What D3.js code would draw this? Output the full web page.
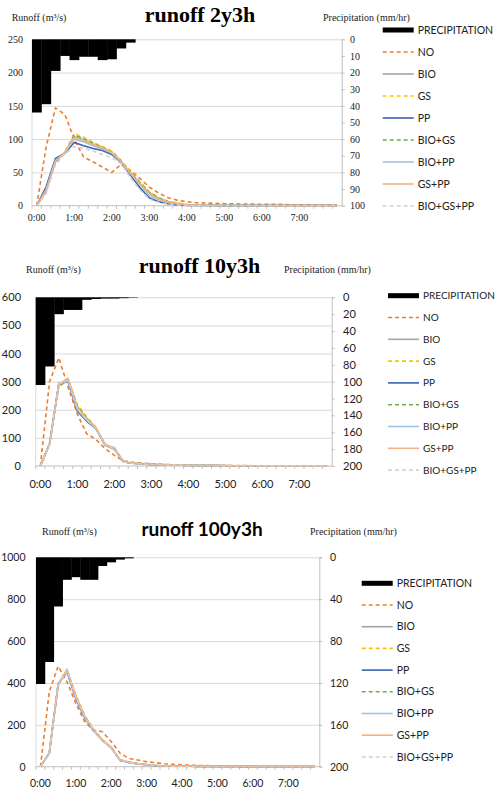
<!DOCTYPE html>
<html>
<head>
<meta charset="utf-8">
<script src="https://cdn.jsdelivr.net/npm/d3@7"></script>
<style>
  html, body { margin: 0; padding: 0; background: #fff; }
  svg { display: block; }
</style>
</head>
<body>
<div id="chart"></div>
<script>
// 15-minute time steps
const TIMES_33 = ["0:00","0:15","0:30","0:45","1:00","1:15","1:30","1:45","2:00","2:15","2:30","2:45","3:00","3:15","3:30","3:45","4:00","4:15","4:30","4:45","5:00","5:15","5:30","5:45","6:00","6:15","6:30","6:45","7:00","7:15","7:30","7:45","8:00"];
const TIMES_32 = TIMES_33.slice(0, 32);
const HOUR_LABELS = ["0:00","1:00","2:00","3:00","4:00","5:00","6:00","7:00"];
const SERIES_NAMES = ["NO","BIO","GS","PP","BIO+GS","BIO+PP","GS+PP","BIO+GS+PP"];

// runoff 2y3h
const precip2y = [44, 39, 19, 10, 12.5, 10.5, 10.5, 12.5, 12, 5.5, 2];
const no2y = [0, 88, 147, 137, 100, 73, 66, 58, 50, 62, 53, 41, 28, 19, 12, 8, 6, 4.5, 4, 3.5, 3, 3, 2.5, 2.5, 2, 2, 2, 1.5, 1.5, 1.5, 1, 1, 1];
const bio2y = [0, 22, 66, 80, 104, 99, 92, 87, 80, 66, 49, 33, 19, 11, 6, 3, 1.5, 1, 0.5, 0.5, 0.3, 0.3, 0.2, 0.2, 0.2, 0.1, 0.1, 0.1, 0.1, 0.1, 0.1, 0.1, 0.1];
const gs2y = [0, 20, 64, 80, 108, 103, 95, 89, 82, 68, 51, 36, 21, 12, 7, 4, 2, 1, 0.6, 0.5, 0.4, 0.3, 0.3, 0.2, 0.2, 0.2, 0.1, 0.1, 0.1, 0.1, 0.1, 0.1, 0.1];
const pp2y = [0, 28, 71, 79, 95, 90, 86, 83, 77, 65, 46, 27, 12, 6, 3, 1, 0.5, 0.3, 0.2, 0.2, 0.1, 0.1, 0.1, 0.1, 0.1, 0.1, 0.1, 0.1, 0.1, 0.1, 0.1, 0.1, 0.1];
const biogs2y = [0, 21, 65, 80, 106, 101, 94, 88, 81, 67, 50, 35, 20, 12, 6, 3.5, 1.5, 1, 0.5, 0.5, 0.3, 0.3, 0.2, 0.2, 0.2, 0.1, 0.1, 0.1, 0.1, 0.1, 0.1, 0.1, 0.1];
const biopp2y = [0, 24, 68, 79, 100, 96, 90, 85, 79, 66, 48, 31, 16, 9, 5, 2.5, 1, 0.5, 0.4, 0.3, 0.2, 0.2, 0.2, 0.1, 0.1, 0.1, 0.1, 0.1, 0.1, 0.1, 0.1, 0.1, 0.1];
const gspp2y = [0, 22, 67, 80, 103, 98, 92, 87, 80, 66, 49, 33, 18, 10, 5.5, 3, 1.5, 1, 0.5, 0.4, 0.3, 0.3, 0.2, 0.2, 0.2, 0.1, 0.1, 0.1, 0.1, 0.1, 0.1, 0.1, 0.1];
const biogspp2y = [0, 18, 62, 78, 89, 86, 82, 77, 72, 63, 42, 24, 10, 5, 2, 1, 0.5, 0.3, 0.2, 0.2, 0.1, 0.1, 0.1, 0.1, 0.1, 0.1, 0.1, 0.1, 0.1, 0.1, 0.1, 0.1, 0.1];

// runoff 10y3h
const precip10y = [104, 82, 20, 15, 15, 3, 2, 1.5, 1.5, 1, 0.5];
const no10y = [0, 300, 385, 280, 185, 115, 95, 62, 38, 18, 13, 10, 8, 6, 5, 4, 3, 3, 2, 2, 2, 1.5, 1.5, 1, 1, 1, 1, 1, 1, 0.5, 0.5, 0.5];
const bio10y = [0, 78, 290, 305, 211, 170, 136, 76, 62, 15, 10, 7, 6, 5, 4, 3, 2.5, 2, 2, 1.5, 1.5, 1, 1, 1, 1, 0.5, 0.5, 0.5, 0.5, 0.5, 0.5, 0.5];
const gs10y = [0, 76, 288, 310, 218, 175, 138, 78, 60, 16, 11, 8, 6, 5, 4, 3, 2.5, 2, 2, 1.5, 1.5, 1, 1, 1, 1, 0.5, 0.5, 0.5, 0.5, 0.5, 0.5, 0.5];
const pp10y = [0, 80, 293, 300, 195, 160, 133, 74, 60, 14, 10, 7, 5, 4, 3.5, 3, 2, 2, 1.5, 1.5, 1, 1, 1, 1, 0.5, 0.5, 0.5, 0.5, 0.5, 0.5, 0.5, 0.5];
const biogs10y = [0, 77, 280, 308, 214, 172, 137, 77, 61, 15, 10, 7, 6, 5, 4, 3, 2.5, 2, 2, 1.5, 1.5, 1, 1, 1, 1, 0.5, 0.5, 0.5, 0.5, 0.5, 0.5, 0.5];
const biopp10y = [0, 79, 292, 302, 200, 163, 134, 75, 66, 14, 10, 7, 5, 4, 3.5, 3, 2, 2, 1.5, 1.5, 1, 1, 1, 1, 0.5, 0.5, 0.5, 0.5, 0.5, 0.5, 0.5, 0.5];
const gspp10y = [0, 78, 291, 312, 208, 168, 135, 76, 58, 15, 10, 7, 6, 5, 4, 3, 2.5, 2, 2, 1.5, 1.5, 1, 1, 1, 1, 0.5, 0.5, 0.5, 0.5, 0.5, 0.5, 0.5];
const biogspp10y = [0, 79, 292, 303, 203, 165, 135, 75, 62, 14, 10, 7, 5, 4, 3.5, 3, 2, 2, 1.5, 1.5, 1, 1, 1, 1, 0.5, 0.5, 0.5, 0.5, 0.5, 0.5, 0.5, 0.5];

// runoff 100y3h
const precip100y = [121, 100, 47, 21.5, 19, 21.5, 21.5, 8.3, 4.8, 2.2, 1];
const no100y = [0, 358, 480, 406, 302, 215, 175, 167, 120, 64, 40, 32, 24, 19, 14, 11, 9, 7, 6, 5, 4, 4, 3, 3, 3, 2, 2, 2, 2, 1.5, 1.5, 1.5];
const bio100y = [0, 64, 390, 460, 334, 239, 175, 127, 91, 32, 21, 14, 10, 6, 4, 3, 2.5, 2, 1.5, 1.5, 1, 1, 1, 1, 0.5, 0.5, 0.5, 0.5, 0.5, 0.5, 0.5, 0.5];
const gs100y = [0, 62, 385, 465, 342, 245, 178, 128, 90, 33, 22, 15, 10, 6, 4, 3, 2.5, 2, 1.5, 1.5, 1, 1, 1, 1, 0.5, 0.5, 0.5, 0.5, 0.5, 0.5, 0.5, 0.5];
const pp100y = [0, 66, 395, 452, 325, 232, 172, 126, 92, 30, 20, 13, 9, 5, 3.5, 3, 2, 2, 1.5, 1, 1, 1, 1, 0.5, 0.5, 0.5, 0.5, 0.5, 0.5, 0.5, 0.5, 0.5];
const biogs100y = [0, 63, 388, 462, 338, 242, 176, 127, 90, 32, 21, 14, 10, 6, 4, 3, 2.5, 2, 1.5, 1.5, 1, 1, 1, 1, 0.5, 0.5, 0.5, 0.5, 0.5, 0.5, 0.5, 0.5];
const biopp100y = [0, 65, 392, 456, 330, 236, 174, 126, 91, 31, 20, 14, 9, 6, 4, 3, 2, 2, 1.5, 1.5, 1, 1, 1, 1, 0.5, 0.5, 0.5, 0.5, 0.5, 0.5, 0.5, 0.5];
const gspp100y = [0, 63, 387, 466, 340, 243, 177, 128, 90, 33, 22, 15, 10, 6, 4, 3, 2.5, 2, 1.5, 1.5, 1, 1, 1, 1, 0.5, 0.5, 0.5, 0.5, 0.5, 0.5, 0.5, 0.5];
const biogspp100y = [0, 64, 390, 458, 332, 237, 174, 126, 91, 31, 21, 14, 9, 6, 4, 3, 2.5, 2, 1.5, 1.5, 1, 1, 1, 1, 0.5, 0.5, 0.5, 0.5, 0.5, 0.5, 0.5, 0.5];

// axis ticks
const runoffTicks2y = [0, 50, 100, 150, 200, 250];
const precipTicks2y = [0, 10, 20, 30, 40, 50, 60, 70, 80, 90, 100];
const runoffTicks10y = [0, 100, 200, 300, 400, 500, 600];
const precipTicks10y = [0, 20, 40, 60, 80, 100, 120, 140, 160, 180, 200];
const runoffTicks100y = [0, 200, 400, 600, 800, 1000];
const precipTicks100y = [0, 40, 80, 120, 160, 200];

const WIDTH = 498;
const HEIGHT = 789;
const SERIF = '"Liberation Serif", "DejaVu Serif", serif';
const SANS = 'Lato, "Liberation Sans", sans-serif';
const plain = (v) => String(v);

const STYLES = {
  "NO": { color: "#ed7d31", dash: "4,3", width: 1.6 },
  "BIO": { color: "#a5a5a5", dash: null, width: 1.6 },
  "GS": { color: "#ffc000", dash: "4,3", width: 1.6 },
  "PP": { color: "#3a62b0", dash: null, width: 1.6 },
  "BIO+GS": { color: "#70ad47", dash: "4,3", width: 1.4 },
  "BIO+PP": { color: "#9dc3e6", dash: null, width: 1.6 },
  "GS+PP": { color: "#f4b183", dash: null, width: 1.6 },
  "BIO+GS+PP": { color: "#cfcfcf", dash: "4,3", width: 1.5 }
};

const svg = d3.select("#chart")
  .append("svg")
  .attr("width", WIDTH)
  .attr("height", HEIGHT)
  .attr("viewBox", `0 0 ${WIDTH} ${HEIGHT}`);

svg.append("rect").attr("width", WIDTH).attr("height", HEIGHT).attr("fill", "#fff");

function renderPanel(p) {
  const g = svg.append("g");
  const x = d3.scaleBand().domain(p.times).range([p.left, p.right]);
  const y = d3.scaleLinear().domain([0, p.runoffTicks[p.runoffTicks.length - 1]]).range([p.bottom, p.top]);
  const yP = d3.scaleLinear().domain([0, p.precipTicks[p.precipTicks.length - 1]]).range([p.top, p.bottom]);
  const bw = x.bandwidth();

  // gridlines
  g.append("g")
    .attr("transform", `translate(${p.left},0)`)
    .call(d3.axisLeft(y).tickValues(p.runoffTicks.slice(1)).tickSize(-(p.right - p.left)).tickFormat(""))
    .call((s) => s.select(".domain").remove())
    .call((s) => s.selectAll("line").attr("stroke", "#d9d9d9").attr("stroke-width", 1));

  // left labels
  g.append("g")
    .attr("transform", `translate(${p.left},0)`)
    .call(d3.axisLeft(y).tickValues(p.runoffTicks).tickFormat(plain).tickSize(0).tickPadding(p.left - p.leftLabelX))
    .call((s) => s.select(".domain").remove())
    .call((s) => s.selectAll("text").attr("font-family", p.tickFont).attr("font-size", p.tickSize).attr("fill", "#222"));

  // left axis line
  g.append("line")
    .attr("x1", p.left).attr("x2", p.left)
    .attr("y1", p.top).attr("y2", p.bottom)
    .attr("stroke", "#d9d9d9");

  // precipitation bars hanging from the top
  g.append("g")
    .selectAll("rect")
    .data(p.precip)
    .join("rect")
    .attr("x", (d, i) => x(p.times[i]))
    .attr("width", bw + 0.4)
    .attr("y", yP(0))
    .attr("height", (d) => yP(d) - yP(0))
    .attr("fill", "#000");

  // right axis
  g.append("g")
    .attr("transform", `translate(${p.right},0)`)
    .call(d3.axisRight(yP).tickValues(p.precipTicks).tickFormat(plain).tickSize(3).tickPadding(p.rightLabelX - p.right - 3))
    .call((s) => s.select(".domain").attr("stroke", "#bfbfbf"))
    .call((s) => s.selectAll("line").attr("stroke", "#bfbfbf"))
    .call((s) => s.selectAll("text").attr("text-anchor", "start").attr("font-family", p.tickFont).attr("font-size", p.tickSize).attr("fill", "#222"));

  // category axis
  g.append("line")
    .attr("x1", p.left).attr("x2", p.right)
    .attr("y1", y(0)).attr("y2", y(0))
    .attr("stroke", "#bfbfbf");
  g.append("g")
    .selectAll("line")
    .data(p.times)
    .join("line")
    .attr("x1", (t) => x(t)).attr("x2", (t) => x(t))
    .attr("y1", y(0)).attr("y2", y(0) + 3)
    .attr("stroke", "#bfbfbf");
  g.append("g")
    .selectAll("text")
    .data(HOUR_LABELS)
    .join("text")
    .attr("x", (t) => x(t) + bw / 2)
    .attr("y", p.xLabelY)
    .attr("text-anchor", "middle")
    .attr("font-family", p.tickFont)
    .attr("font-size", p.tickSize)
    .attr("fill", "#222")
    .text((t) => t);

  // runoff lines
  const line = d3.line()
    .x((d, i) => x(p.times[i]) + bw / 2)
    .y((d) => y(d));
  SERIES_NAMES.forEach((name, i) => {
    const st = STYLES[name];
    g.append("path")
      .attr("d", line(p.series[i]))
      .attr("fill", "none")
      .attr("stroke", st.color)
      .attr("stroke-width", st.width)
      .attr("stroke-dasharray", st.dash)
      .attr("stroke-linejoin", "round");
  });

  // titles
  g.append("text")
    .attr("x", p.titleX).attr("y", p.titleY)
    .attr("text-anchor", "middle")
    .attr("font-family", p.titleFont)
    .attr("font-weight", "bold")
    .attr("font-size", p.titleSize)
    .text(p.title);
  g.append("text")
    .attr("x", p.runoffLabelX).attr("y", p.axisTitleY)
    .attr("font-family", SERIF).attr("font-size", 10).attr("fill", "#222")
    .text("Runoff (m³/s)");
  g.append("text")
    .attr("x", p.precipLabelX).attr("y", p.axisTitleY)
    .attr("font-family", SERIF).attr("font-size", 10).attr("fill", "#222")
    .text("Precipitation (mm/hr)");

  // legend
  const lg = g.append("g").attr("transform", `translate(${p.legendX},${p.legendY})`);
  lg.append("rect").attr("x", 0).attr("y", -2.5).attr("width", 31).attr("height", 5).attr("fill", "#000");
  lg.append("text")
    .attr("x", 35).attr("y", 0).attr("dy", "0.35em")
    .attr("font-family", SANS).attr("font-size", p.legendFont).attr("fill", "#222")
    .text("PRECIPITATION");
  SERIES_NAMES.forEach((name, i) => {
    const st = STYLES[name];
    const yy = (i + 1) * p.legendStep;
    lg.append("line")
      .attr("x1", 0).attr("x2", 31)
      .attr("y1", yy).attr("y2", yy)
      .attr("stroke", st.color)
      .attr("stroke-width", st.width)
      .attr("stroke-dasharray", st.dash);
    lg.append("text")
      .attr("x", 35).attr("y", yy).attr("dy", "0.35em")
      .attr("font-family", SANS).attr("font-size", p.legendFont).attr("fill", "#222")
      .text(name);
  });
}

renderPanel({
  times: TIMES_33,
  precip: precip2y,
  series: [no2y, bio2y, gs2y, pp2y, biogs2y, biopp2y, gspp2y, biogspp2y],
  runoffTicks: runoffTicks2y,
  precipTicks: precipTicks2y,
  top: 39.3, bottom: 205.7, left: 32, right: 341.7,
  leftLabelX: 23, rightLabelX: 350, xLabelY: 221,
  tickFont: SERIF, tickSize: 10,
  title: "runoff 2y3h", titleFont: SERIF, titleSize: 22, titleX: 200, titleY: 22,
  runoffLabelX: 11.7, precipLabelX: 323, axisTitleY: 21,
  legendX: 382.7, legendY: 30, legendStep: 22, legendFont: 10.5
});

renderPanel({
  times: TIMES_32,
  precip: precip10y,
  series: [no10y, bio10y, gs10y, pp10y, biogs10y, biopp10y, gspp10y, biogspp10y],
  runoffTicks: runoffTicks10y,
  precipTicks: precipTicks10y,
  top: 297.3, bottom: 466, left: 35.7, right: 331.7,
  leftLabelX: 21, rightLabelX: 343, xLabelY: 488,
  tickFont: SANS, tickSize: 11,
  title: "runoff 10y3h", titleFont: SERIF, titleSize: 22, titleX: 199.5, titleY: 273,
  runoffLabelX: 26, precipLabelX: 284, axisTitleY: 273,
  legendX: 388, legendY: 295.7, legendStep: 21.8, legendFont: 10
});

renderPanel({
  times: TIMES_32,
  precip: precip100y,
  series: [no100y, bio100y, gs100y, pp100y, biogs100y, biopp100y, gspp100y, biogspp100y],
  runoffTicks: runoffTicks100y,
  precipTicks: precipTicks100y,
  top: 557.3, bottom: 766.7, left: 36, right: 319.3,
  leftLabelX: 25.5, rightLabelX: 330, xLabelY: 787,
  tickFont: SANS, tickSize: 10.5,
  title: "runoff 100y3h", titleFont: SANS, titleSize: 19, titleX: 202, titleY: 536,
  runoffLabelX: 42, precipLabelX: 310, axisTitleY: 535,
  legendX: 361.7, legendY: 583.3, legendStep: 21.7, legendFont: 10.5
});
</script>
</body>
</html>
